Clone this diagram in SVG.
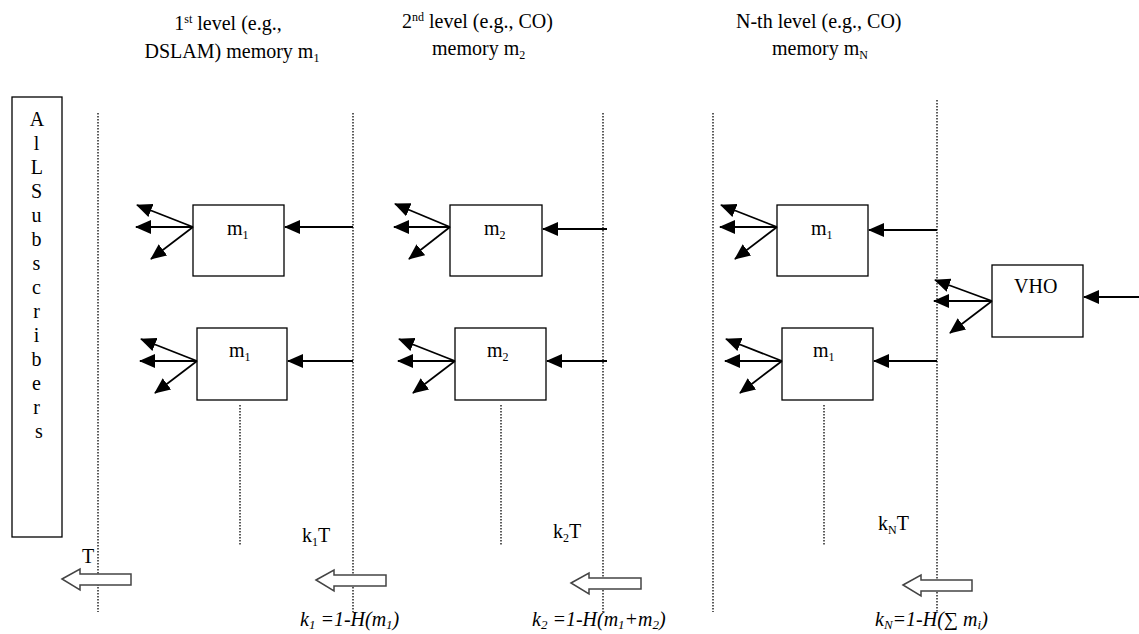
<svg xmlns="http://www.w3.org/2000/svg" width="1139" height="634" viewBox="0 0 1139 634">
<defs>
<marker id="ah" markerWidth="16" markerHeight="14" refX="15" refY="7" orient="auto" markerUnits="userSpaceOnUse">
<path d="M0,0 L16,7 L0,14 z" fill="#000"/>
</marker>
<style>
.t{font-family:"Liberation Serif","Times New Roman",serif;font-size:20px;fill:#000}
.it{font-family:"Liberation Serif","Times New Roman",serif;font-size:20px;font-style:italic;fill:#000}
.box{fill:#fff;stroke:#000;stroke-width:1.3}
.dot{stroke:#333;stroke-width:1.6;stroke-dasharray:1.5,1.5;fill:none}
.ar{stroke:#000;stroke-width:1.8;fill:none;marker-end:url(#ah)}
.hol{fill:#fff;stroke:#444;stroke-width:1.5}
</style>
</defs>

<g id="dotted-lines">
<line class="dot" x1="98" y1="113" x2="98" y2="612"/>
<line class="dot" x1="353" y1="113" x2="353" y2="612"/>
<line class="dot" x1="603" y1="113" x2="603" y2="612"/>
<line class="dot" x1="713" y1="113" x2="713" y2="612"/>
<line class="dot" x1="937" y1="100" x2="937" y2="612"/>
<line class="dot" x1="240" y1="405" x2="240" y2="545"/>
<line class="dot" x1="501" y1="405" x2="501" y2="545"/>
<line class="dot" x1="824" y1="405" x2="824" y2="545"/>
</g>

<g id="headers">
<text class="t" x="228" y="30" text-anchor="middle">1<tspan font-size="12" dy="-7">st</tspan><tspan dy="7"> level (e.g.,</tspan></text>
<text class="t" x="232" y="58" text-anchor="middle">DSLAM) memory m<tspan font-size="12" dy="4">1</tspan></text>
<text class="t" x="402" y="28">2<tspan font-size="12" dy="-7">nd</tspan><tspan dy="7"> level (e.g., CO)</tspan></text>
<text class="t" x="432" y="55">memory m<tspan font-size="12" dy="4">2</tspan></text>
<text class="t" x="736" y="28">N-th level (e.g., CO)</text>
<text class="t" x="772" y="55">memory m<tspan font-size="12" dy="4">N</tspan></text>
</g>

<g id="subscribers">
<rect class="box" x="12" y="97" width="50" height="440"/>
<text class="t" text-anchor="middle">
<tspan x="39" y="126">A</tspan>
<tspan x="39" y="150">l</tspan>
<tspan x="39" y="174">L</tspan>
<tspan x="39" y="198">S</tspan>
<tspan x="39" y="222">u</tspan>
<tspan x="39" y="246">b</tspan>
<tspan x="39" y="270">s</tspan>
<tspan x="39" y="294">c</tspan>
<tspan x="39" y="318">r</tspan>
<tspan x="39" y="342">i</tspan>
<tspan x="39" y="366">b</tspan>
<tspan x="39" y="390">e</tspan>
<tspan x="39" y="414">r</tspan>
<tspan x="39" y="438">s</tspan>
</text>
</g>

<g id="node-l1-a">
<rect class="box" x="193" y="205" width="91" height="71"/>
<text class="t" x="227" y="235">m<tspan font-size="12" dy="4">1</tspan></text>
</g>
<g id="node-l1-b">
<rect class="box" x="197" y="328" width="90" height="72"/>
<text class="t" x="229" y="357">m<tspan font-size="12" dy="4">1</tspan></text>
</g>
<g id="node-l2-a">
<rect class="box" x="450" y="205" width="92" height="71"/>
<text class="t" x="484" y="235">m<tspan font-size="12" dy="4">2</tspan></text>
</g>
<g id="node-l2-b">
<rect class="box" x="455" y="328" width="91" height="72"/>
<text class="t" x="487" y="357">m<tspan font-size="12" dy="4">2</tspan></text>
</g>
<g id="node-lN-a">
<rect class="box" x="777" y="205" width="91" height="71"/>
<text class="t" x="811" y="235">m<tspan font-size="12" dy="4">1</tspan></text>
</g>
<g id="node-lN-b">
<rect class="box" x="782" y="328" width="91" height="72"/>
<text class="t" x="813" y="357">m<tspan font-size="12" dy="4">1</tspan></text>
</g>
<g id="node-vho">
<rect class="box" x="992" y="265" width="91" height="72"/>
<text class="t" x="1014" y="293">VHO</text>
</g>

<g id="connectors">
<line class="ar" x1="353" y1="227" x2="285" y2="227"/>
<line class="ar" x1="193" y1="227" x2="137" y2="205"/>
<line class="ar" x1="193" y1="227" x2="136" y2="227"/>
<line class="ar" x1="193" y1="227" x2="151" y2="259"/>

<line class="ar" x1="353" y1="361" x2="288" y2="361"/>
<line class="ar" x1="197" y1="361" x2="141" y2="339"/>
<line class="ar" x1="197" y1="361" x2="140" y2="361"/>
<line class="ar" x1="197" y1="361" x2="155" y2="393"/>

<line class="ar" x1="607" y1="229" x2="543" y2="229"/>
<line class="ar" x1="450" y1="227" x2="395" y2="204"/>
<line class="ar" x1="450" y1="227" x2="394" y2="227"/>
<line class="ar" x1="450" y1="227" x2="409" y2="259"/>

<line class="ar" x1="607" y1="361" x2="547" y2="361"/>
<line class="ar" x1="455" y1="361" x2="399" y2="339"/>
<line class="ar" x1="455" y1="361" x2="398" y2="361"/>
<line class="ar" x1="455" y1="361" x2="413" y2="393"/>

<line class="ar" x1="937" y1="230" x2="869" y2="230"/>
<line class="ar" x1="777" y1="227" x2="721" y2="205"/>
<line class="ar" x1="777" y1="227" x2="720" y2="227"/>
<line class="ar" x1="777" y1="227" x2="735" y2="259"/>

<line class="ar" x1="937" y1="361" x2="874" y2="361"/>
<line class="ar" x1="782" y1="361" x2="726" y2="339"/>
<line class="ar" x1="782" y1="361" x2="725" y2="361"/>
<line class="ar" x1="782" y1="361" x2="740" y2="393"/>

<line class="ar" x1="1139" y1="297" x2="1084" y2="297"/>
<line class="ar" x1="992" y1="301" x2="935" y2="280"/>
<line class="ar" x1="992" y1="301" x2="934" y2="301"/>
<line class="ar" x1="992" y1="301" x2="950" y2="333"/>
</g>

<g id="time-arrows">
<path class="hol" d="M62,579 L80,569 L80,574 L131,574 L131,585 L80,585 L80,590 z"/>
<path class="hol" d="M316,580 L334,570 L334,575 L386,575 L386,586 L334,586 L334,591 z"/>
<path class="hol" d="M571,583 L589,573 L589,578 L641,578 L641,589 L589,589 L589,594 z"/>
<path class="hol" d="M903,585 L921,575 L921,580 L972,580 L972,591 L921,591 L921,596 z"/>
</g>

<g id="labels">
<text class="t" x="82" y="563">T</text>
<text class="t" x="302" y="542">k<tspan font-size="12" dy="4">1</tspan><tspan dy="-4">T</tspan></text>
<text class="t" x="553" y="538">k<tspan font-size="12" dy="4">2</tspan><tspan dy="-4">T</tspan></text>
<text class="t" x="878" y="530">k<tspan font-size="12" dy="4">N</tspan><tspan dy="-4">T</tspan></text>
<text class="it" x="300" y="626">k<tspan font-size="13" dy="3">1</tspan><tspan dy="-3"> =1-H(m</tspan><tspan font-size="13" dy="3">1</tspan><tspan dy="-3">)</tspan></text>
<text class="it" x="532" y="626">k<tspan font-size="13" dy="3">2</tspan><tspan dy="-3"> =1-H(m</tspan><tspan font-size="13" dy="3">1</tspan><tspan dy="-3">+m</tspan><tspan font-size="13" dy="3">2</tspan><tspan dy="-3">)</tspan></text>
<text class="it" x="875" y="626">k<tspan font-size="13" dy="3">N</tspan><tspan dy="-3">=1-H(</tspan><tspan font-style="normal">∑</tspan><tspan> m</tspan><tspan font-size="13" dy="3">i</tspan><tspan dy="-3">)</tspan></text>
</g>
</svg>
